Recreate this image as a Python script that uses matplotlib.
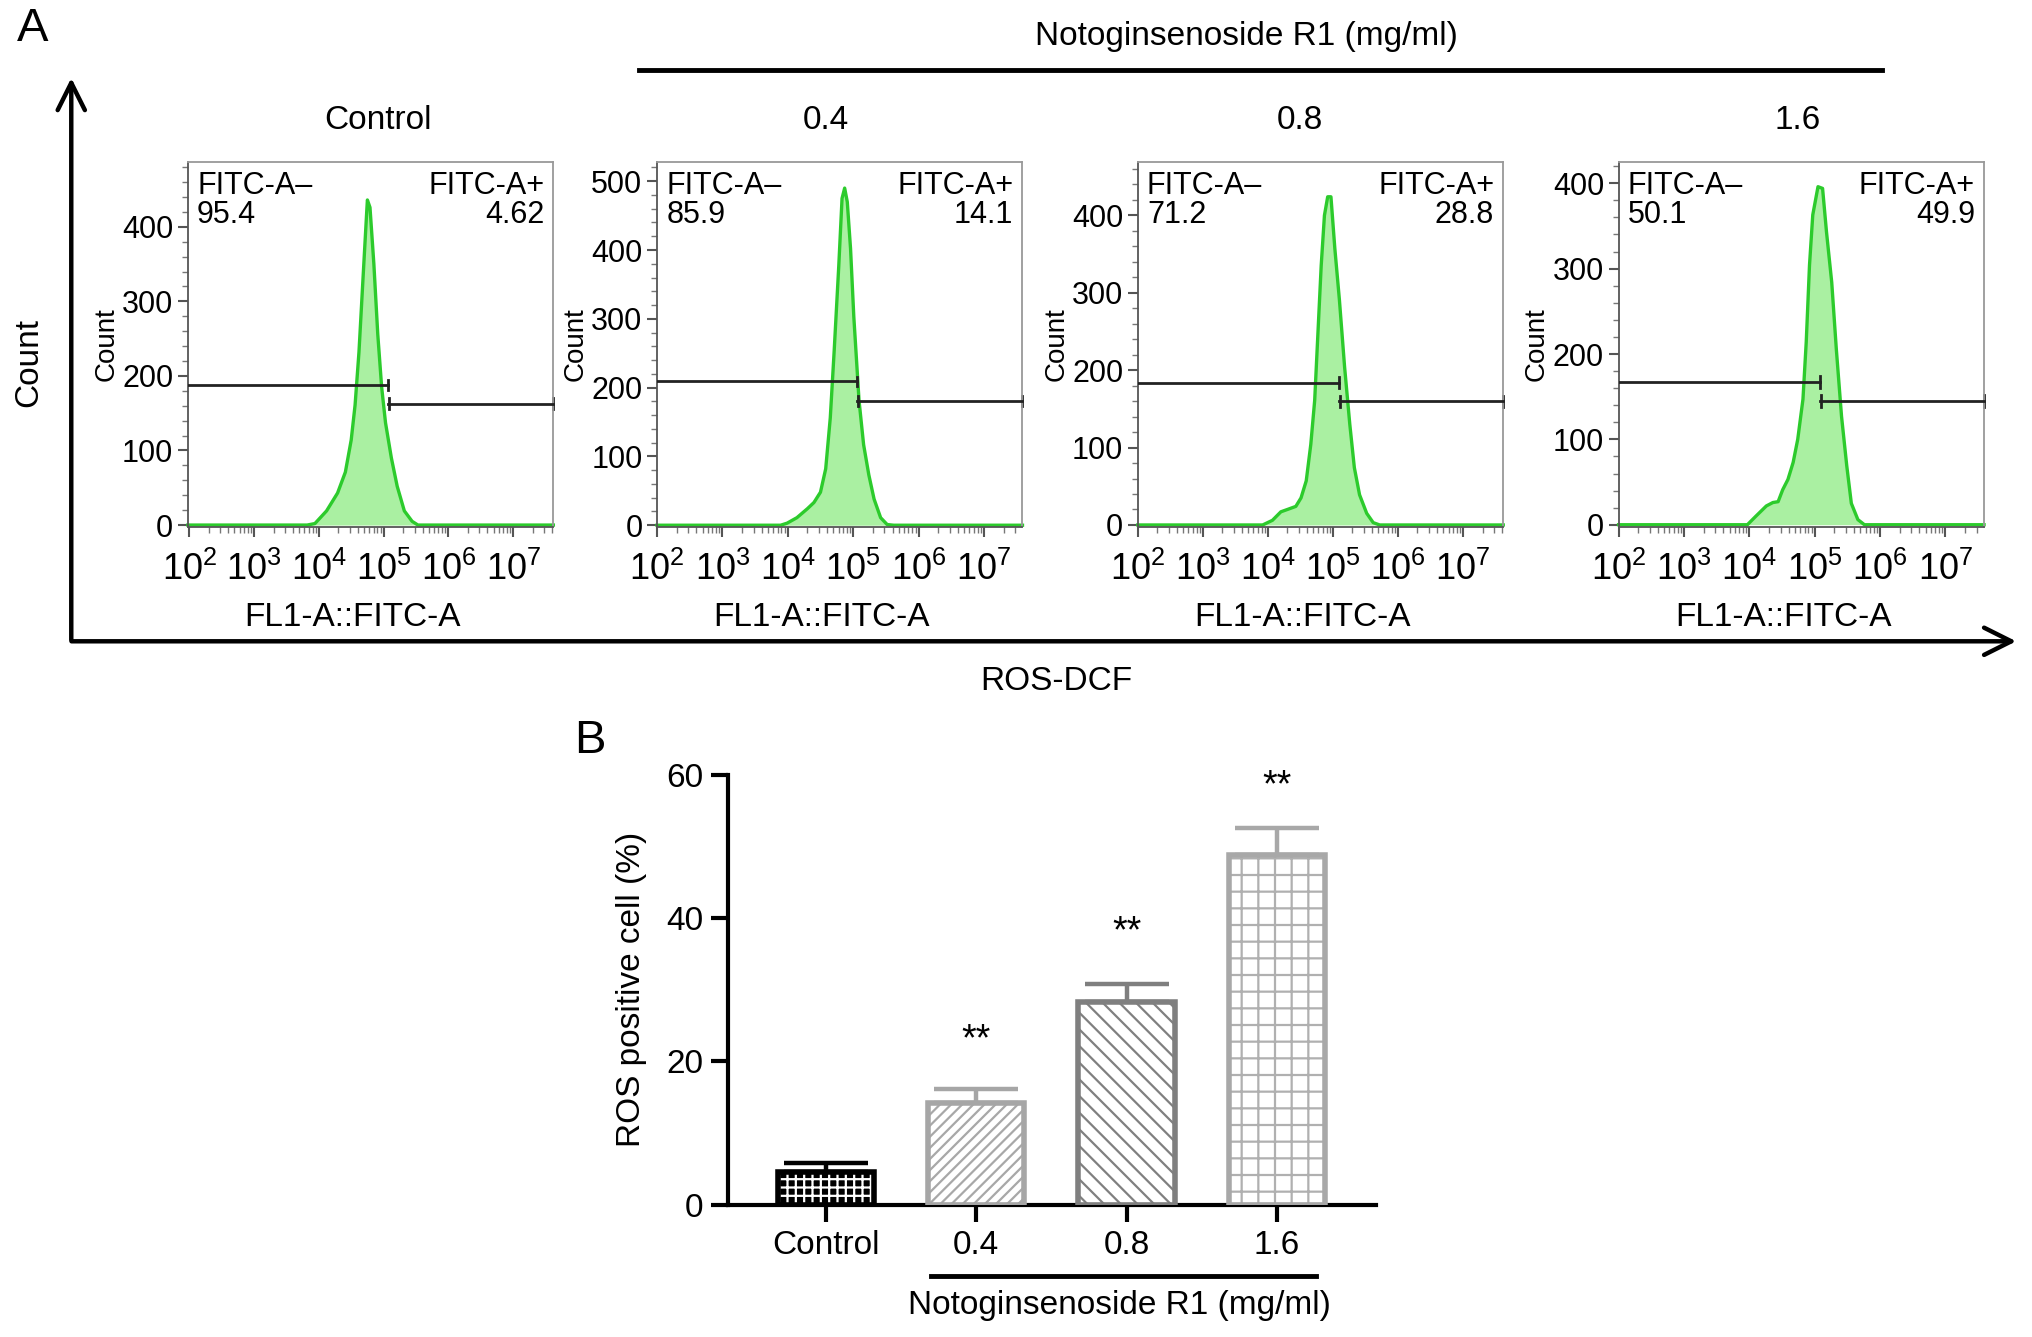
import numpy as np
import matplotlib
matplotlib.use("Agg")
import matplotlib.pyplot as plt
from matplotlib.patches import FancyArrowPatch
from matplotlib.lines import Line2D
from matplotlib.ticker import LogLocator, MultipleLocator, NullFormatter, FixedLocator

plt.rcParams['font.family'] = ['Liberation Sans', 'DejaVu Sans']
plt.rcParams['mathtext.fontset'] = 'custom'
plt.rcParams['mathtext.rm'] = 'Liberation Sans'
plt.rcParams['hatch.linewidth'] = 1.6

# ---- panel A data: flow histograms (log10 FL1-A, count)
groups = ['Control', '0.4', '0.8', '1.6']
neg_pct = ['95.4', '85.9', '71.2', '50.1']
pos_pct = ['4.62', '14.1', '28.8', '49.9']
ytops = [487, 528, 469, 425]
yticks_a = [[0, 100, 200, 300, 400], [0, 100, 200, 300, 400, 500],
            [0, 100, 200, 300, 400], [0, 100, 200, 300, 400]]

hist_logx = [
    [1.98, 3.82, 3.94, 4.12, 4.29, 4.41, 4.50, 4.56, 4.62, 4.68, 4.74, 4.75, 4.79,
     4.85, 4.91, 4.97, 5.03, 5.12, 5.21, 5.32, 5.44, 5.53, 7.62],
    [2.00, 3.89, 3.99, 4.14, 4.30, 4.40, 4.50, 4.58, 4.65, 4.71, 4.78, 4.83, 4.87,
     4.91, 4.96, 5.01, 5.09, 5.16, 5.24, 5.32, 5.42, 5.52, 5.62, 7.59],
    [2.00, 3.92, 4.07, 4.20, 4.30, 4.43, 4.51, 4.59, 4.66, 4.72, 4.77, 4.82, 4.87,
     4.92, 4.97, 5.03, 5.10, 5.18, 5.26, 5.33, 5.41, 5.52, 5.62, 5.72, 7.62],
    [2.00, 3.97, 4.10, 4.26, 4.36, 4.44, 4.51, 4.59, 4.67, 4.74, 4.82, 4.87, 4.92,
     4.97, 5.05, 5.12, 5.18, 5.26, 5.33, 5.41, 5.49, 5.56, 5.66, 5.76, 7.59],
]
hist_count = [
    [0, 0, 2, 19, 43, 71, 114, 161, 232, 327, 421, 436, 426,
     350, 256, 185, 137, 90, 52, 19, 5, 0, 0],
    [0, 0, 3, 11, 24, 33, 48, 82, 156, 254, 377, 475, 490,
     470, 402, 303, 181, 117, 73, 38, 11, 1, 0, 0],
    [0, 0, 6, 17, 20, 24, 35, 57, 104, 161, 248, 335, 400,
     424, 424, 357, 291, 204, 130, 74, 39, 15, 3, 0, 0],
    [0, 0, 10, 22, 26, 27, 41, 53, 73, 100, 147, 214, 304,
     363, 396, 394, 343, 284, 206, 127, 69, 25, 6, 0, 0],
]
gate_split = [5.07, 5.06, 5.09, 5.08]
gate_neg_y = [188, 209, 184, 167]
gate_pos_y = [163, 181, 160, 145]
xlims_log = [(1.98, 7.62), (2.00, 7.59), (2.00, 7.62), (2.00, 7.59)]

# ---- panel B data
bar_labels = ['Control', '0.4', '0.8', '1.6']
bar_means = [4.6, 14.2, 28.3, 48.8]
bar_err = [1.2, 1.9, 2.5, 3.7]
stars_y = [None, 23.0, 38.0, 58.4]

W, H = 1568.0, 1032.0  # layout measured on the reference preview

def fx(px):
    return px / W

def fy(py):
    return 1 - py / H

fig = plt.figure(figsize=(20.32, 13.37), dpi=100)

green_line = '#2ccb2c'
green_fill = '#aaf0a2'
hist_left = [145, 507, 878, 1249]
title_x = [292, 637, 1003, 1387]

for i in range(4):
    ax = fig.add_axes([fx(hist_left[i]), fy(407), fx(282), 282 / H])
    xs = 10 ** np.array(hist_logx[i])
    ys = np.array(hist_count[i])
    ax.fill_between(xs, 0, ys, color=green_fill, lw=0, zorder=1)
    ax.plot(xs, ys, color=green_line, lw=2.4, zorder=2, clip_on=False)
    ax.set_xscale('log')
    ax.set_xlim(10 ** xlims_log[i][0], 10 ** xlims_log[i][1])
    ax.set_ylim(-3, ytops[i])
    ax.set_yticks(yticks_a[i])
    ax.yaxis.set_minor_locator(MultipleLocator(20))
    ax.xaxis.set_major_locator(FixedLocator([10 ** k for k in range(2, 8)]))
    ax.xaxis.set_minor_locator(LogLocator(base=10, subs=np.arange(2, 10), numticks=20))
    ax.xaxis.set_minor_formatter(NullFormatter())
    ax.set_xticklabels([r'$\mathregular{10^{%d}}$' % k for k in range(2, 8)])
    ax.tick_params(axis='y', which='major', labelsize=22)
    ax.tick_params(axis='x', which='major', labelsize=26, pad=11)
    ax.tick_params(axis='both', which='major', direction='out', length=7, width=1.5,
                   color='#555555')
    ax.tick_params(axis='both', which='minor', direction='out', length=4, width=1.0,
                   color='#777777')
    for s in ax.spines.values():
        s.set_color('#999999')
        s.set_linewidth(1.3)
    ax.spines['left'].set_color('#555555')
    ax.spines['bottom'].set_color('#555555')
    # gates
    lo, hi = xlims_log[i]
    ax.plot([10 ** lo, 10 ** gate_split[i]], [gate_neg_y[i]] * 2, color='#222222', lw=2, zorder=3)
    ax.plot([10 ** gate_split[i], 10 ** hi], [gate_pos_y[i]] * 2, color='#222222', lw=2,
            zorder=3, clip_on=False)
    ax.plot([10 ** gate_split[i]] * 2, [gate_neg_y[i] - 7, gate_neg_y[i] + 7], color='#222222', lw=2)
    ax.plot([10 ** (gate_split[i] + 0.02)] * 2, [gate_pos_y[i] - 7, gate_pos_y[i] + 7],
            color='#222222', lw=2)
    ax.plot([10 ** hi] * 2, [gate_pos_y[i] - 7, gate_pos_y[i] + 7], color='#222222', lw=2,
            clip_on=False)
    ax.text(0.025, 0.975, 'FITC-A\u2013\n' + neg_pct[i], transform=ax.transAxes,
            ha='left', va='top', fontsize=22, linespacing=0.95)
    ax.text(0.975, 0.975, 'FITC-A+\n' + pos_pct[i], transform=ax.transAxes,
            ha='right', va='top', fontsize=22, linespacing=0.95, multialignment='right')
    ax.set_xlabel('FL1-A::FITC-A', fontsize=24)
    ax.xaxis.set_label_coords(0.45, -0.205)
    ax.set_ylabel('Count', fontsize=20, labelpad=2)
    fig.text(fx(title_x[i]), fy(93), groups[i], ha='center', va='center', fontsize=24)

# big arrows of panel A
fig.add_artist(FancyArrowPatch((fx(55), fy(496)), (fx(55), fy(58)), transform=fig.transFigure,
                               arrowstyle='->,head_length=1.4,head_width=0.7', lw=3.2,
                               color='black', mutation_scale=14))
fig.add_artist(FancyArrowPatch((fx(53), fy(495)), (fx(1558), fy(495)), transform=fig.transFigure,
                               arrowstyle='->,head_length=1.4,head_width=0.7', lw=3.2,
                               color='black', mutation_scale=14))
fig.add_artist(Line2D([fx(493), fx(1452)], [fy(54), fy(54)], transform=fig.transFigure,
                      color='black', lw=3.5))
fig.text(fx(962), fy(28), 'Notoginsenoside R1 (mg/ml)', ha='center', va='center', fontsize=24)
fig.text(fx(22), fy(280), 'Count', ha='center', va='center', rotation=90, fontsize=24)
fig.text(fx(815), fy(526), 'ROS-DCF', ha='center', va='center', fontsize=24)
fig.text(fx(25), fy(22), 'A', ha='center', va='center', fontsize=34)
fig.text(fx(455), fy(572), 'B', ha='center', va='center', fontsize=34)

# ---- panel B: bar chart
bx = fig.add_axes([fx(562), fy(930), fx(500), 332 / H])
pos = np.arange(len(bar_labels))
face = ['black', 'white', 'white', 'white']
hatch_col = ['white', '#a8a8a8', '#808080', '#b0b0b0']
hatches = ['++', '///', '\\\\', '+']
edge = ['black', '#a6a6a6', '#7f7f7f', '#a8a8a8']
bw = 0.64
for k in range(len(pos)):
    bx.bar(pos[k], bar_means[k], bw, color=face[k], edgecolor=hatch_col[k],
           hatch=hatches[k], linewidth=0, zorder=2)
    bx.bar(pos[k], bar_means[k], bw, fill=False, edgecolor=edge[k], linewidth=4, zorder=3)
    bx.errorbar(pos[k], bar_means[k], yerr=[[0], [bar_err[k]]], color=edge[k],
                elinewidth=3.2, capsize=30, capthick=3.2, zorder=1)
    if stars_y[k] is not None:
        bx.text(pos[k], stars_y[k], '**', ha='center', va='center', fontsize=27)

bx.set_xlim(-0.647, 3.66)
bx.set_ylim(0, 60)
bx.set_yticks([0, 20, 40, 60])
bx.set_xticks(pos)
bx.set_xticklabels(bar_labels)
for s in ['top', 'right']:
    bx.spines[s].set_visible(False)
for s in ['left', 'bottom']:
    bx.spines[s].set_linewidth(3)
bx.tick_params(axis='both', direction='out', length=12, width=3, labelsize=24, pad=6)
bx.set_ylabel('ROS positive cell (%)', fontsize=24, labelpad=14)
bx.plot([0.70, 3.26], [-0.166, -0.166], transform=bx.get_xaxis_transform(),
        color='black', lw=3.5, clip_on=False)
bx.text(1.95, -0.235, 'Notoginsenoside R1 (mg/ml)', transform=bx.get_xaxis_transform(),
        ha='center', va='center', fontsize=24)

fig.savefig('out.png', dpi=100)
